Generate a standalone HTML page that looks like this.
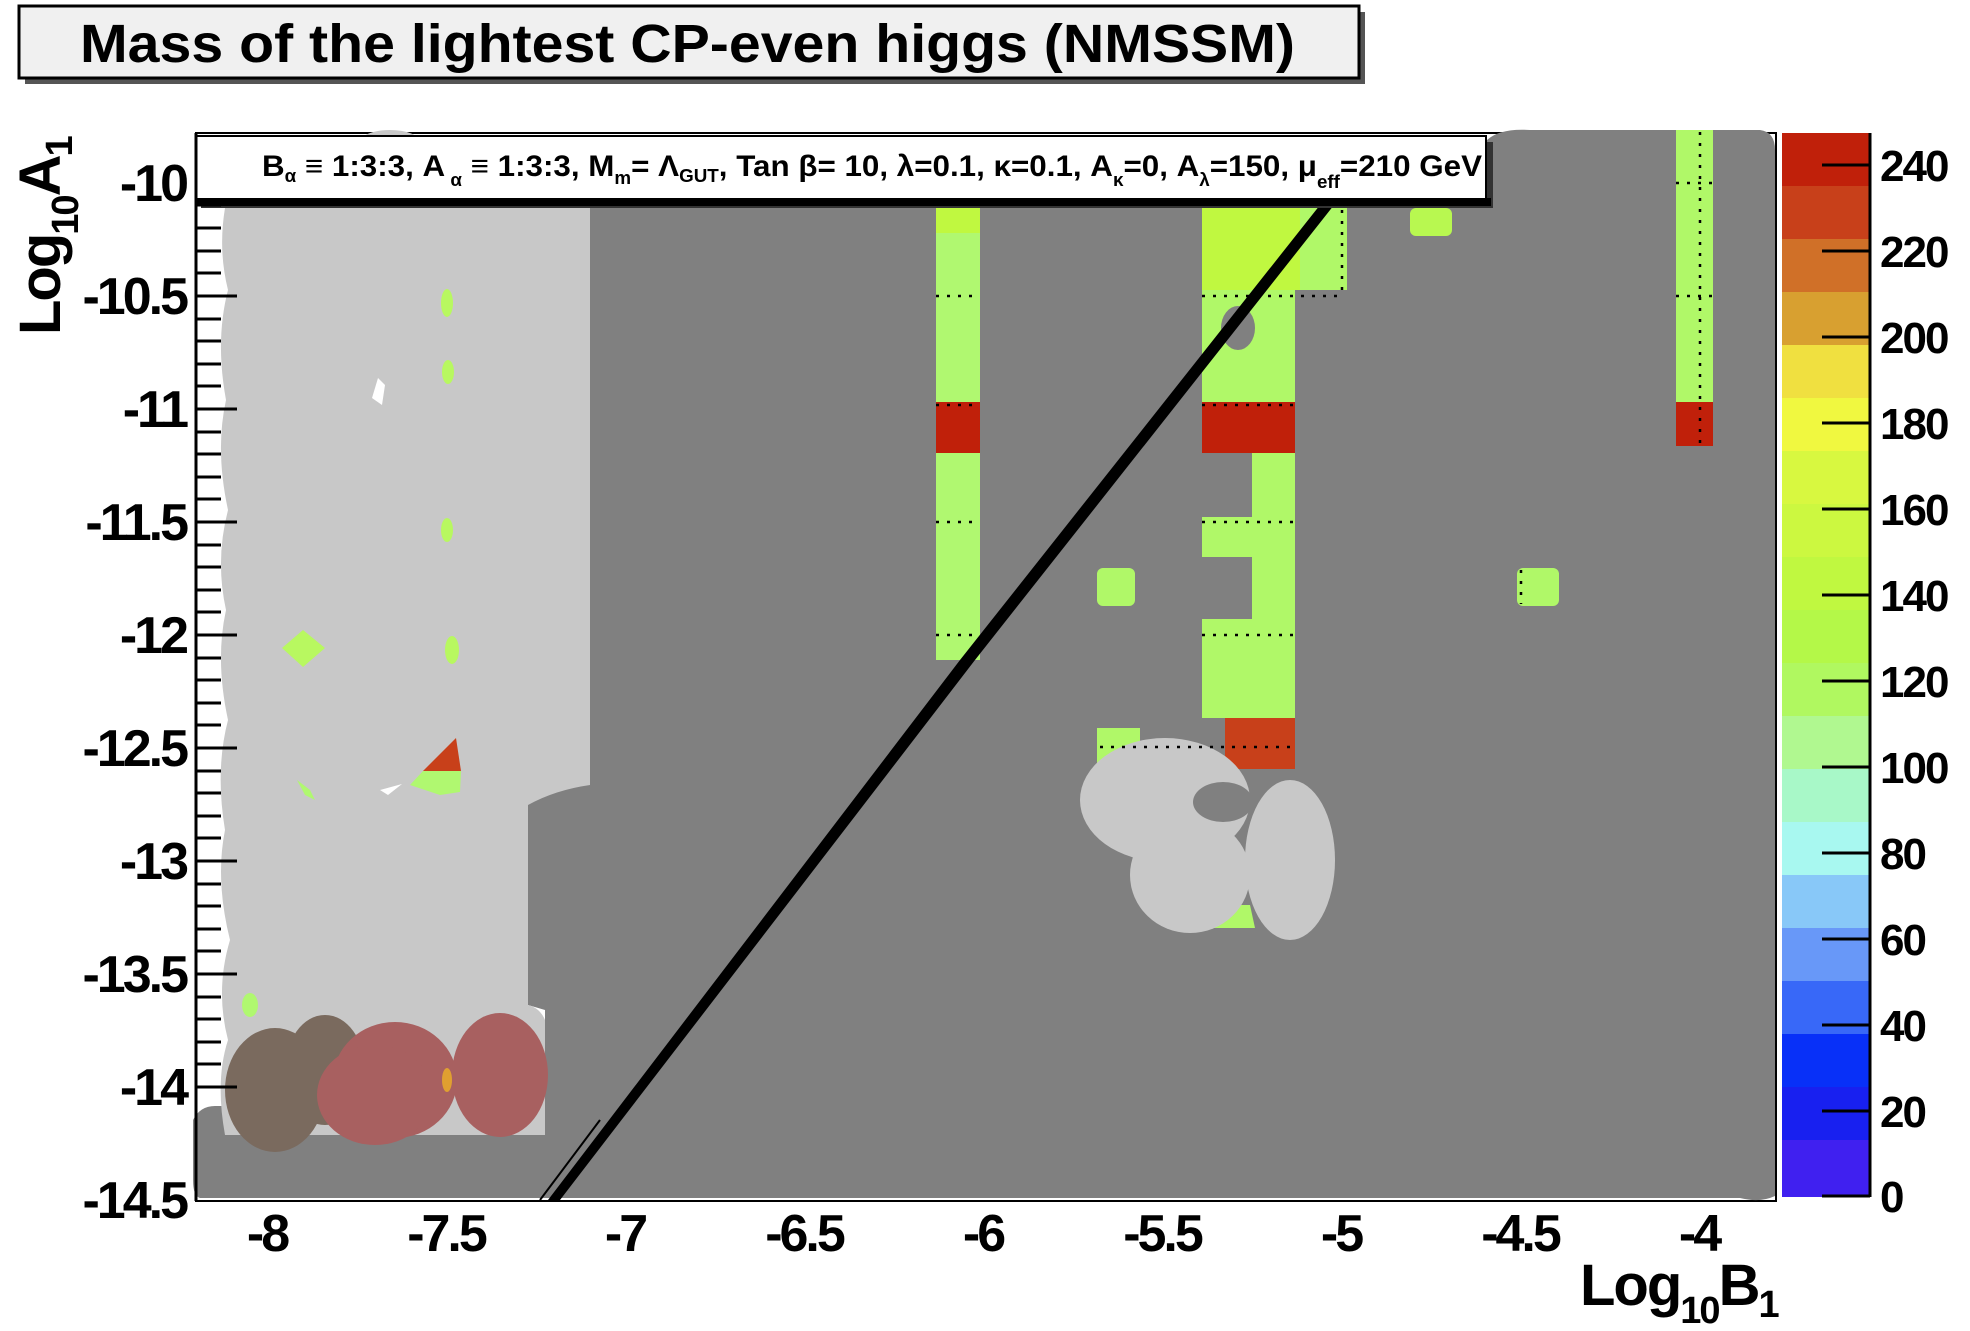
<!DOCTYPE html>
<html><head><meta charset="utf-8"><style>
html,body{margin:0;padding:0;background:#fff;}
svg{display:block;}
text{font-family:"Liberation Sans",Arial,sans-serif;font-weight:bold;fill:#000;}
</style></head><body>
<svg width="1970" height="1331" viewBox="0 0 1970 1331" xmlns="http://www.w3.org/2000/svg">
<!-- title -->
<rect x="25" y="12" width="1340" height="72" fill="#555"/>
<rect x="19" y="6" width="1340" height="72" fill="#f0f0f0" stroke="#000" stroke-width="3"/>
<text x="80" y="62" font-size="54" textLength="1215" lengthAdjust="spacingAndGlyphs">Mass of the lightest CP-even higgs (NMSSM)</text>

<!-- plot frame background -->
<rect x="196" y="133" width="1580" height="1068" fill="#fff" stroke="#000" stroke-width="2"/>

<!-- dark gray main -->
<path d="M590,208 L1775,208 L1775,1196 Q1760,1203 1740,1198 L200,1198 Q193,1196 193,1180 L193,1120 Q200,1106 215,1106 L545,1106 L545,1010 L528,1005 L528,800 Q560,790 590,785 Z" fill="#808080"/>
<path d="M560,215 Q590,208 620,210 L620,800 L560,800 Z" fill="#808080"/>
<path d="M1487,140 Q1500,128 1530,130 L1760,130 Q1775,132 1775,150 L1775,215 L1487,215 Z" fill="#808080"/>

<!-- light gray left region -->
<path d="M225,208 L590,208 L590,785 Q555,790 528,805 L528,1005 Q540,1008 545,1020 L545,1135 L225,1135 Q215,1080 228,1040 Q215,990 230,940 Q215,880 225,830 Q215,770 228,720 Q215,660 226,610 Q215,560 228,510 Q215,450 226,400 Q215,340 228,290 Q218,250 225,208 Z" fill="#c8c8c8"/>
<ellipse cx="390" cy="142" rx="30" ry="12" fill="#c8c8c8"/>
<path d="M378,378 L372,398 L382,405 L385,385 Z" fill="#fff"/>
<path d="M380,790 L402,784 L388,795 Z" fill="#fff"/>

<ellipse cx="447" cy="303" rx="6" ry="14" fill="#b8f860"/>
<ellipse cx="448" cy="372" rx="6" ry="12" fill="#b8f860"/>
<ellipse cx="447" cy="530" rx="6" ry="12" fill="#b8f860"/>
<path d="M303,630 L325,648 L303,667 L282,648 Z" fill="#b8f860"/>
<ellipse cx="452" cy="650" rx="7" ry="14" fill="#b8f860"/>
<path d="M423,771 L456,738 L461,771 Z" fill="#c8401a"/>
<path d="M410,785 L423,771 L461,771 L460,792 L440,795 Z" fill="#b0f870"/>
<path d="M297,780 L310,790 L315,800 L305,795 Z" fill="#b0f870"/>
<ellipse cx="250" cy="1005" rx="8" ry="12" fill="#b0f870"/>

<!-- brown/pink blobs -->
<ellipse cx="275" cy="1090" rx="50" ry="62" fill="#7a6a5e"/>
<ellipse cx="325" cy="1070" rx="40" ry="55" fill="#7a6a5e"/>
<ellipse cx="395" cy="1080" rx="62" ry="58" fill="#a86060"/>
<ellipse cx="375" cy="1095" rx="58" ry="50" fill="#a86060"/>
<ellipse cx="500" cy="1075" rx="48" ry="62" fill="#a86060"/>
<ellipse cx="447" cy="1080" rx="5" ry="12" fill="#e0a030"/>

<!-- Column A -->
<rect x="936" y="208" width="44" height="452" fill="#b0f870"/>
<rect x="936" y="208" width="44" height="25" fill="#c0f840"/>
<rect x="936" y="402" width="44" height="51" fill="#c0200a"/>
<!-- Column B -->
<path d="M1202,208 L1347,208 L1347,290 L1295,290 L1295,718 L1202,718 L1202,619 L1252,619 L1252,557 L1202,557 L1202,517 L1252,517 L1252,448 L1202,448 Z" fill="#b0f868"/>
<path d="M1202,208 L1300,208 L1300,290 L1202,290 Z" fill="#c0f840"/>
<rect x="1202" y="402" width="93" height="51" fill="#c0200a"/>
<rect x="1225" y="718" width="70" height="51" fill="#c8401a"/>
<ellipse cx="1238" cy="328" rx="17" ry="22" fill="#808080"/>
<!-- Column C -->
<rect x="1676" y="130" width="37" height="316" fill="#b0f868"/>
<rect x="1676" y="402" width="37" height="44" fill="#c0200a"/>
<rect x="1097" y="568" width="38" height="38" rx="6" fill="#b0f868"/>
<rect x="1517" y="568" width="42" height="38" rx="6" fill="#b0f868"/>
<rect x="1410" y="208" width="42" height="28" rx="6" fill="#b8f850"/>
<rect x="1097" y="728" width="43" height="36" fill="#b0f868"/>

<path d="M1200,905 L1250,905 L1255,928 L1205,928 Z" fill="#b0f868"/>
<ellipse cx="1165" cy="800" rx="85" ry="62" fill="#c8c8c8"/>
<ellipse cx="1190" cy="875" rx="60" ry="58" fill="#c8c8c8"/>
<ellipse cx="1290" cy="860" rx="45" ry="80" fill="#c8c8c8"/>
<ellipse cx="1223" cy="802" rx="30" ry="20" fill="#808080"/>

<g stroke="#000" stroke-width="2.5" stroke-dasharray="3,8">
<line x1="936" y1="296" x2="980" y2="296"/><line x1="936" y1="522" x2="980" y2="522"/><line x1="936" y1="635" x2="980" y2="635"/><line x1="936" y1="405" x2="980" y2="405"/>
<line x1="1202" y1="296" x2="1345" y2="296"/><line x1="1202" y1="522" x2="1295" y2="522"/><line x1="1202" y1="635" x2="1295" y2="635"/><line x1="1202" y1="405" x2="1295" y2="405"/><line x1="1100" y1="747" x2="1295" y2="747"/>
<line x1="1342" y1="210" x2="1342" y2="290"/>
<line x1="1676" y1="183" x2="1713" y2="183"/><line x1="1676" y1="296" x2="1713" y2="296"/>
<line x1="1700" y1="132" x2="1700" y2="446"/>
<line x1="1521" y1="570" x2="1521" y2="604"/>
</g>

<!-- diagonal black line -->
<path d="M1320,205 L1334,205 L975,660 L560,1200 L548,1200 L960,660 Z" fill="#000"/>
<line x1="540" y1="1200" x2="600" y2="1120" stroke="#000" stroke-width="2"/>

<!-- info box -->
<rect x="201" y="142" width="1292" height="66" fill="#333"/>
<rect x="196" y="136" width="1290" height="66" fill="#fff" stroke="#000" stroke-width="2"/>
<rect x="196" y="198" width="1295" height="8" fill="#000"/>
<text x="262" y="176" font-size="30" textLength="1220" lengthAdjust="spacingAndGlyphs">B<tspan font-size="18" dy="6">α</tspan><tspan dy="-6"> ≡ 1:3:3, A</tspan><tspan font-size="18" dy="10"> α</tspan><tspan dy="-10"> ≡ 1:3:3, M</tspan><tspan font-size="18" dy="8">m</tspan><tspan dy="-8">= Λ</tspan><tspan font-size="18" dy="6">GUT</tspan><tspan dy="-6">, Tan β= 10, λ=0.1, κ=0.1, A</tspan><tspan font-size="18" dy="10">κ</tspan><tspan dy="-10">=0, A</tspan><tspan font-size="18" dy="10">λ</tspan><tspan dy="-10">=150, μ</tspan><tspan font-size="18" dy="12">eff</tspan><tspan dy="-12">=210 GeV</tspan></text>

<g stroke="#000" stroke-width="3">
<line x1="196" y1="133" x2="196" y2="1201"/>
<line x1="196" y1="205" x2="221" y2="205"/><line x1="196" y1="228" x2="221" y2="228"/><line x1="196" y1="251" x2="221" y2="251"/><line x1="196" y1="273" x2="221" y2="273"/>
<line x1="196" y1="296" x2="237" y2="296"/><line x1="196" y1="319" x2="221" y2="319"/><line x1="196" y1="341" x2="221" y2="341"/><line x1="196" y1="364" x2="221" y2="364"/><line x1="196" y1="386" x2="221" y2="386"/>
<line x1="196" y1="409" x2="237" y2="409"/><line x1="196" y1="432" x2="221" y2="432"/><line x1="196" y1="454" x2="221" y2="454"/><line x1="196" y1="477" x2="221" y2="477"/><line x1="196" y1="499" x2="221" y2="499"/>
<line x1="196" y1="522" x2="237" y2="522"/><line x1="196" y1="545" x2="221" y2="545"/><line x1="196" y1="567" x2="221" y2="567"/><line x1="196" y1="590" x2="221" y2="590"/><line x1="196" y1="612" x2="221" y2="612"/>
<line x1="196" y1="635" x2="237" y2="635"/><line x1="196" y1="658" x2="221" y2="658"/><line x1="196" y1="680" x2="221" y2="680"/><line x1="196" y1="703" x2="221" y2="703"/><line x1="196" y1="725" x2="221" y2="725"/>
<line x1="196" y1="748" x2="237" y2="748"/><line x1="196" y1="771" x2="221" y2="771"/><line x1="196" y1="793" x2="221" y2="793"/><line x1="196" y1="816" x2="221" y2="816"/><line x1="196" y1="838" x2="221" y2="838"/>
<line x1="196" y1="861" x2="237" y2="861"/><line x1="196" y1="884" x2="221" y2="884"/><line x1="196" y1="906" x2="221" y2="906"/><line x1="196" y1="929" x2="221" y2="929"/><line x1="196" y1="951" x2="221" y2="951"/>
<line x1="196" y1="974" x2="237" y2="974"/><line x1="196" y1="997" x2="221" y2="997"/><line x1="196" y1="1019" x2="221" y2="1019"/><line x1="196" y1="1042" x2="221" y2="1042"/><line x1="196" y1="1064" x2="221" y2="1064"/>
<line x1="196" y1="1087" x2="237" y2="1087"/>
</g>
<g font-size="52" text-anchor="end" letter-spacing="-3">
<text x="186" y="201">-10</text>
<text x="186" y="314">-10.5</text>
<text x="186" y="427">-11</text>
<text x="186" y="540">-11.5</text>
<text x="186" y="653">-12</text>
<text x="186" y="766">-12.5</text>
<text x="186" y="879">-13</text>
<text x="186" y="992">-13.5</text>
<text x="186" y="1105">-14</text>
<text x="186" y="1218">-14.5</text>
</g>
<g font-size="52" text-anchor="middle" letter-spacing="-3">
<text x="267" y="1251">-8</text>
<text x="446" y="1251">-7.5</text>
<text x="625" y="1251">-7</text>
<text x="804" y="1251">-6.5</text>
<text x="983" y="1251">-6</text>
<text x="1162" y="1251">-5.5</text>
<text x="1341" y="1251">-5</text>
<text x="1520" y="1251">-4.5</text>
<text x="1699" y="1251">-4</text>
</g>
<text x="1580" y="1305" font-size="58" letter-spacing="-2">Log<tspan font-size="38" dy="18">10</tspan><tspan dy="-18">B</tspan><tspan font-size="38" dy="12">1</tspan></text>
<text transform="translate(60,335) rotate(-90)" font-size="58" letter-spacing="-2">Log<tspan font-size="38" dy="18">10</tspan><tspan dy="-18">A</tspan><tspan font-size="38" dy="12">1</tspan></text>

<g>
<rect x="1782" y="133" width="88" height="54" fill="#c0200a"/>
<rect x="1782" y="186" width="88" height="54" fill="#c8401a"/>
<rect x="1782" y="239" width="88" height="54" fill="#d07028"/>
<rect x="1782" y="292" width="88" height="54" fill="#d8a030"/>
<rect x="1782" y="345" width="88" height="54" fill="#f0e040"/>
<rect x="1782" y="398" width="88" height="54" fill="#f0f840"/>
<rect x="1782" y="451" width="88" height="54" fill="#d8f840"/>
<rect x="1782" y="504" width="88" height="54" fill="#ccf840"/>
<rect x="1782" y="557" width="88" height="54" fill="#c0f840"/>
<rect x="1782" y="610" width="88" height="54" fill="#b4f848"/>
<rect x="1782" y="663" width="88" height="54" fill="#b0f860"/>
<rect x="1782" y="716" width="88" height="54" fill="#b0f890"/>
<rect x="1782" y="769" width="88" height="54" fill="#a8f8c8"/>
<rect x="1782" y="822" width="88" height="54" fill="#a8f8f0"/>
<rect x="1782" y="875" width="88" height="54" fill="#88c8f8"/>
<rect x="1782" y="928" width="88" height="54" fill="#6898f8"/>
<rect x="1782" y="981" width="88" height="54" fill="#3868f8"/>
<rect x="1782" y="1034" width="88" height="54" fill="#0830f8"/>
<rect x="1782" y="1087" width="88" height="54" fill="#1820f0"/>
<rect x="1782" y="1140" width="88" height="57" fill="#4020f0"/>
</g>
<line x1="1870" y1="133" x2="1870" y2="1197" stroke="#000" stroke-width="3"/>
<g stroke="#000" stroke-width="3">
<line x1="1822" y1="165" x2="1870" y2="165"/><line x1="1822" y1="251" x2="1870" y2="251"/><line x1="1822" y1="337" x2="1870" y2="337"/><line x1="1822" y1="423" x2="1870" y2="423"/><line x1="1822" y1="509" x2="1870" y2="509"/><line x1="1822" y1="595" x2="1870" y2="595"/><line x1="1822" y1="681" x2="1870" y2="681"/><line x1="1822" y1="767" x2="1870" y2="767"/><line x1="1822" y1="853" x2="1870" y2="853"/><line x1="1822" y1="939" x2="1870" y2="939"/><line x1="1822" y1="1025" x2="1870" y2="1025"/><line x1="1822" y1="1111" x2="1870" y2="1111"/><line x1="1822" y1="1196" x2="1870" y2="1196"/>
</g>
<g font-size="44" letter-spacing="-2">
<text x="1880" y="181">240</text><text x="1880" y="267">220</text><text x="1880" y="353">200</text><text x="1880" y="439">180</text><text x="1880" y="525">160</text><text x="1880" y="611">140</text><text x="1880" y="697">120</text><text x="1880" y="783">100</text><text x="1880" y="869">80</text><text x="1880" y="955">60</text><text x="1880" y="1041">40</text><text x="1880" y="1127">20</text><text x="1880" y="1212">0</text>
</g>
</svg>
</body></html>
